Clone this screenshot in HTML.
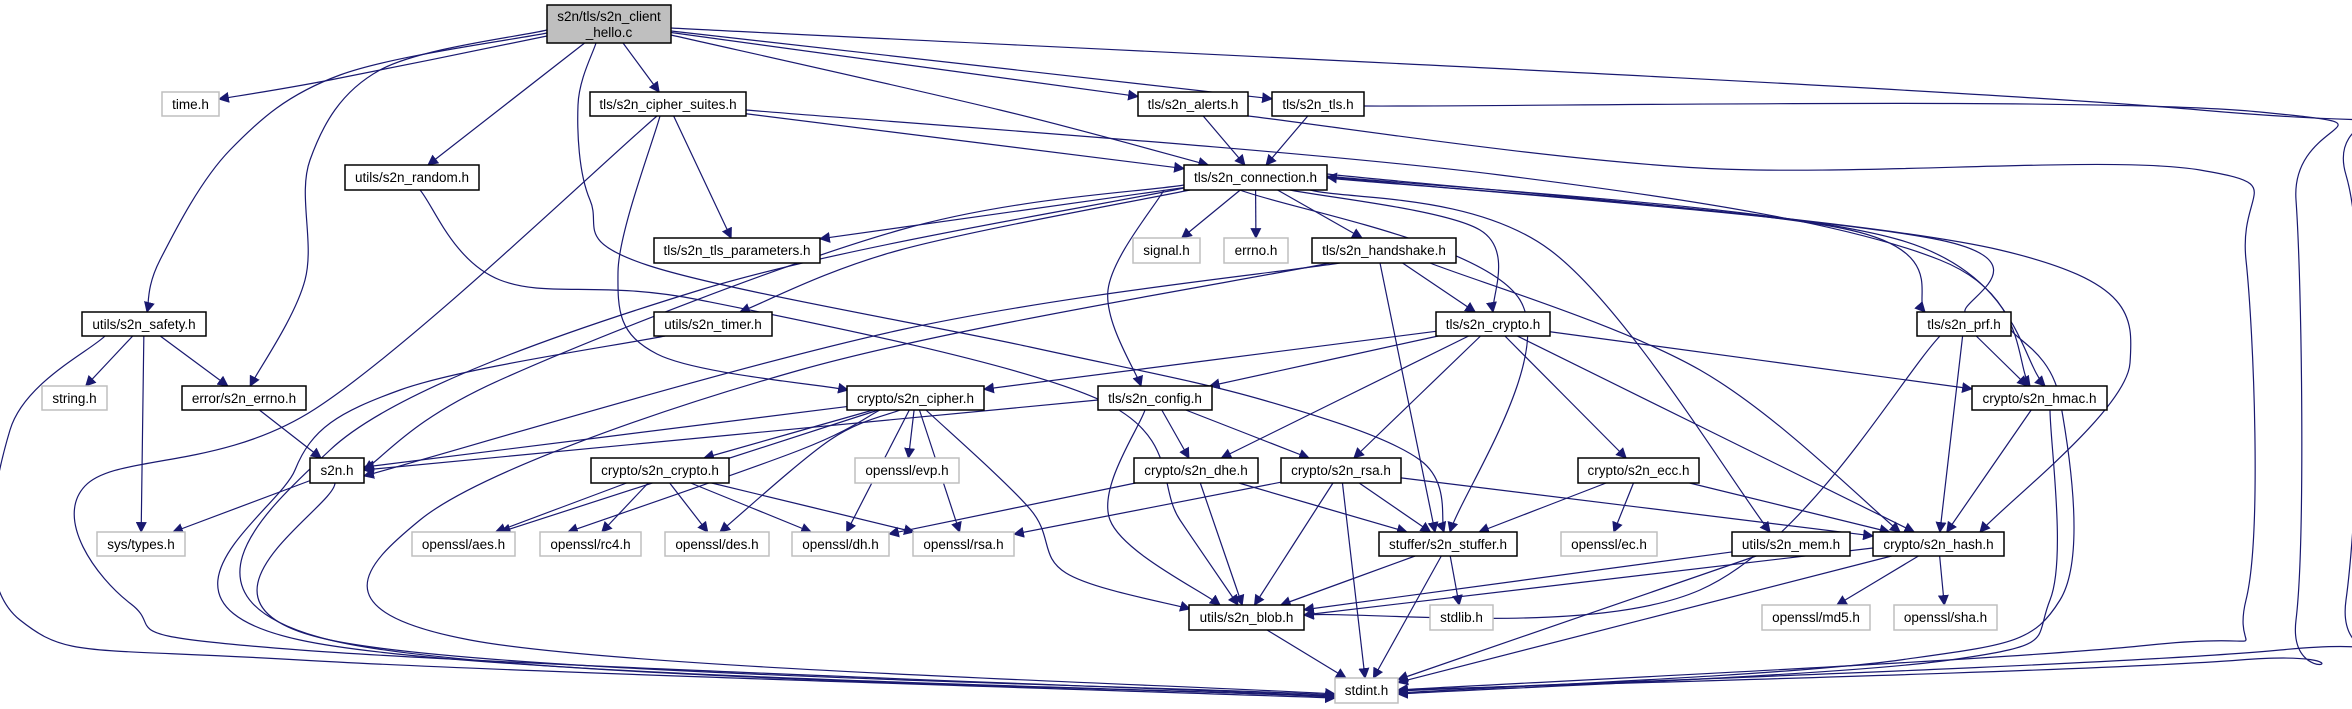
<!DOCTYPE html>
<html><head><meta charset="utf-8"><style>
html,body{margin:0;padding:0;background:#fff;}
svg{display:block;}
text{font-family:"Liberation Sans",sans-serif;font-size:13.5px;fill:#000;text-anchor:middle;}
.n{fill:#fff;stroke:#000;stroke-width:1.5;}
.g{fill:#fff;stroke:#bfbfbf;stroke-width:1.5;}
</style></head><body>
<svg id="g" width="2352" height="709" viewBox="0 0 2352 709" xmlns="http://www.w3.org/2000/svg">
<defs><marker id="a" viewBox="0 0 10 10" refX="9" refY="5" markerWidth="11" markerHeight="11" markerUnits="userSpaceOnUse" orient="auto"><path d="M0,0 L10,5 L0,10 z" fill="#191970"/></marker></defs>
<g id="edges" fill="none" stroke="#191970" stroke-width="1.2"></g>
<g>
<rect x="547" y="5" width="124" height="38" fill="#bfbfbf" stroke="#000" stroke-width="1.5"/>
<text x="609" y="21">s2n/tls/s2n_client</text><text x="609" y="37">_hello.c</text>
<rect class="g" x="162" y="92" width="57" height="24"/><text x="190.5" y="109">time.h</text>
<rect class="n" x="590" y="92" width="156" height="24"/><text x="668" y="109">tls/s2n_cipher_suites.h</text>
<rect class="n" x="1138" y="92" width="110" height="24"/><text x="1193" y="109">tls/s2n_alerts.h</text>
<rect class="n" x="1272" y="92" width="92" height="24"/><text x="1318" y="109">tls/s2n_tls.h</text>
<rect class="n" x="345" y="165" width="134" height="25"/><text x="412" y="182">utils/s2n_random.h</text>
<rect class="n" x="1184" y="165" width="143" height="25"/><text x="1255.5" y="182">tls/s2n_connection.h</text>
<rect class="n" x="654" y="238" width="166" height="25"/><text x="737" y="255">tls/s2n_tls_parameters.h</text>
<rect class="g" x="1133" y="238" width="67" height="25"/><text x="1166.5" y="255">signal.h</text>
<rect class="g" x="1224" y="238" width="64" height="25"/><text x="1256" y="255">errno.h</text>
<rect class="n" x="1312" y="238" width="144" height="25"/><text x="1384" y="255">tls/s2n_handshake.h</text>
<rect class="n" x="82" y="312" width="124" height="24"/><text x="144" y="329">utils/s2n_safety.h</text>
<rect class="n" x="654" y="312" width="118" height="24"/><text x="713" y="329">utils/s2n_timer.h</text>
<rect class="n" x="1436" y="312" width="114" height="24"/><text x="1493" y="329">tls/s2n_crypto.h</text>
<rect class="n" x="1917" y="312" width="94" height="24"/><text x="1964" y="329">tls/s2n_prf.h</text>
<rect class="g" x="42" y="386" width="65" height="24"/><text x="74.5" y="403">string.h</text>
<rect class="n" x="182" y="386" width="124" height="24"/><text x="244" y="403">error/s2n_errno.h</text>
<rect class="n" x="847" y="386" width="137" height="24"/><text x="915.5" y="403">crypto/s2n_cipher.h</text>
<rect class="n" x="1098" y="386" width="114" height="24"/><text x="1155" y="403">tls/s2n_config.h</text>
<rect class="n" x="1972" y="386" width="135" height="24"/><text x="2039.5" y="403">crypto/s2n_hmac.h</text>
<rect class="n" x="310" y="458" width="54" height="25"/><text x="337" y="475">s2n.h</text>
<rect class="n" x="591" y="458" width="138" height="25"/><text x="660" y="475">crypto/s2n_crypto.h</text>
<rect class="g" x="855" y="458" width="104" height="25"/><text x="907" y="475">openssl/evp.h</text>
<rect class="n" x="1134" y="458" width="124" height="25"/><text x="1196" y="475">crypto/s2n_dhe.h</text>
<rect class="n" x="1281" y="458" width="120" height="25"/><text x="1341" y="475">crypto/s2n_rsa.h</text>
<rect class="n" x="1578" y="458" width="121" height="25"/><text x="1638.5" y="475">crypto/s2n_ecc.h</text>
<rect class="g" x="97" y="532" width="88" height="24"/><text x="141" y="549">sys/types.h</text>
<rect class="g" x="412" y="532" width="103" height="24"/><text x="463.5" y="549">openssl/aes.h</text>
<rect class="g" x="540" y="532" width="101" height="24"/><text x="590.5" y="549">openssl/rc4.h</text>
<rect class="g" x="665" y="532" width="104" height="24"/><text x="717" y="549">openssl/des.h</text>
<rect class="g" x="792" y="532" width="97" height="24"/><text x="840.5" y="549">openssl/dh.h</text>
<rect class="g" x="913" y="532" width="101" height="24"/><text x="963.5" y="549">openssl/rsa.h</text>
<rect class="n" x="1379" y="532" width="138" height="24"/><text x="1448" y="549">stuffer/s2n_stuffer.h</text>
<rect class="g" x="1561" y="532" width="96" height="24"/><text x="1609" y="549">openssl/ec.h</text>
<rect class="n" x="1732" y="532" width="118" height="24"/><text x="1791" y="549">utils/s2n_mem.h</text>
<rect class="n" x="1873" y="532" width="131" height="24"/><text x="1938.5" y="549">crypto/s2n_hash.h</text>
<rect class="n" x="1189" y="605" width="115" height="25"/><text x="1246.5" y="622">utils/s2n_blob.h</text>
<rect class="g" x="1430" y="605" width="63" height="25"/><text x="1461.5" y="622">stdlib.h</text>
<rect class="g" x="1762" y="605" width="108" height="25"/><text x="1816" y="622">openssl/md5.h</text>
<rect class="g" x="1894" y="605" width="103" height="25"/><text x="1945.5" y="622">openssl/sha.h</text>
<rect class="g" x="1335" y="678" width="63" height="25"/><text x="1366.5" y="695">stdint.h</text>
</g>
</svg>
<script>
var N={
time:[162,219,92,116],suites:[590,746,92,116],alerts:[1138,1248,92,116],tlsh:[1272,1364,92,116],
random:[345,479,165,190],conn:[1184,1327,165,190],
params:[654,820,238,263],signal:[1133,1200,238,263],errnoh:[1224,1288,238,263],handshake:[1312,1456,238,263],
safety:[82,206,312,336],timer:[654,772,312,336],tcrypto:[1436,1550,312,336],prf:[1917,2011,312,336],
string:[42,107,386,410],errno:[182,306,386,410],cipher:[847,984,386,410],config:[1098,1212,386,410],hmac:[1972,2107,386,410],
s2n:[310,364,458,483],ccrypto:[591,729,458,483],evp:[855,959,458,483],dhe:[1134,1258,458,483],rsa:[1281,1401,458,483],ecc:[1578,1699,458,483],
systypes:[97,185,532,556],aes:[412,515,532,556],rc4:[540,641,532,556],des:[665,769,532,556],dh:[792,889,532,556],rsah:[913,1014,532,556],stuffer:[1379,1517,532,556],ech:[1561,1657,532,556],mem:[1732,1850,532,556],hash:[1873,2004,532,556],
blob:[1189,1304,605,630],stdlib:[1430,1493,605,630],md5:[1762,1870,605,630],sha:[1894,1997,605,630],
stdint:[1335,1398,678,703],root:[547,671,5,43]};
var E=[
["root","time",[[547,36],[330,80]]],["root","safety",[[547,33],[340,75],[230,150],[160,260]]],["root","errno",[[547,30],[380,70],[310,160],[305,280]]],
["root","random"],["root","suites"],["root","stuffer",[[596,43],[578,105],[590,200],[647,265],[1030,347],[1263,400],[1420,460]]],["root","conn",[[671,35],[1000,110]]],["root","alerts"],["root","tlsh"],
["root","stdint",[[671,28],[2200,110],[2346,175],[2346,600],[2280,650],[1398,691]]],
["suites","conn"],["suites","params"],["suites","cipher",[[660,116],[618,272],[657,354],[848,390]]],["suites","stdint",[[657,116],[315,409],[85,486],[131,604],[300,650],[1335,696]]],
["suites","hmac",[[746,110],[1500,175],[1940,260],[2030,386]]],
["random","blob",[[420,190],[500,280],[700,300],[1100,400],[1180,520]]],
["alerts","conn"],["alerts","stdint",[[1248,116],[1700,168],[2200,170],[2246,260],[2246,600],[2150,645],[1398,690]]],
["tlsh","conn"],["tlsh","stdint",[[1364,106],[2260,112],[2296,200],[2296,620],[2240,660],[1398,690]]],
["conn","params"],["conn","timer",[[1190,190],[900,250],[740,312]]],["conn","signal"],["conn","errnoh"],["conn","handshake"],["conn","tcrypto",[[1290,190],[1480,230],[1493,312]]],
["conn","config",[[1164,190],[1108,290],[1141,386]]],["conn","s2n",[[1184,185],[900,230],[500,380],[364,470]]],["conn","stdint",[[1184,188],[700,290],[330,450],[330,640],[1335,697]]],
["conn","stuffer",[[1240,190],[1520,300],[1450,532]]],["conn","mem",[[1310,190],[1550,250],[1770,532]]],["conn","prf",[[1327,178],[1850,230],[1925,312]]],
["conn","hmac",[[1327,176],[1900,240],[2045,386]]],["conn","hash",[[1327,174],[2000,250],[2130,363],[1980,532]]],
["prf","conn",[[1965,312],[1940,240],[1327,177]]],
["safety","string"],["safety","systypes"],["safety","errno"],["safety","stdint",[[105,336],[10,430],[20,620],[300,660],[1335,698]]],
["errno","s2n"],["timer","stdint",[[665,336],[400,390],[295,470],[300,640],[1335,697]]],
["handshake","tcrypto"],["handshake","stuffer",[[1380,263],[1435,532]]],["handshake","hash",[[1430,263],[1700,370],[1900,532]]],
["handshake","s2n",[[1340,263],[900,330],[364,476]]],["handshake","stdint",[[1330,263],[800,370],[420,520],[470,640],[1335,694]]],
["tcrypto","cipher"],["tcrypto","config"],["tcrypto","dhe"],["tcrypto","rsa"],["tcrypto","ecc"],["tcrypto","hash"],["tcrypto","hmac"],
["prf","hmac"],["prf","hash"],["prf","blob",[[1940,336],[1700,590],[1304,615]]],["prf","stdint",[[2011,330],[2060,400],[2060,600],[1900,660],[1398,693]]],
["hmac","hash"],["hmac","stdint",[[2050,410],[2050,600],[1950,660],[1398,694]]],
["cipher","s2n"],["cipher","ccrypto"],["cipher","evp"],["cipher","aes"],["cipher","rc4",[[880,410],[800,450],[568,532]]],["cipher","des",[[900,410],[830,440],[720,532]]],["cipher","dh"],["cipher","rsah"],["cipher","blob",[[926,410],[1030,509],[1066,573],[1190,609]]],
["config","s2n",[[1098,400],[364,470]]],["config","dhe"],["config","rsa"],["config","blob",[[1145,410],[1110,520],[1220,605]]],
["ccrypto","aes"],["ccrypto","rc4"],["ccrypto","des"],["ccrypto","dh"],["ccrypto","rsah"],
["s2n","systypes"],["s2n","stdint",[[335,483],[330,640],[1335,695]]],
["dhe","dh"],["dhe","blob"],["dhe","stuffer"],
["rsa","rsah"],["rsa","stuffer"],["rsa","blob"],["rsa","stdint"],["rsa","hash"],
["ecc","ech"],["ecc","stuffer"],["ecc","hash"],
["stuffer","blob"],["stuffer","stdlib"],["stuffer","stdint"],
["mem","blob"],["mem","stdint"],["hash","md5"],["hash","sha"],["hash","stdint"],["hash","blob",[[1873,548],[1304,615]]],["blob","stdint"]];
function clip(n,px,py){var r=N[n],cx=(r[0]+r[1])/2,cy=(r[2]+r[3])/2,dx=px-cx,dy=py-cy,hw=(r[1]-r[0])/2,hh=(r[3]-r[2])/2;
 if(dx==0&&dy==0)return[cx,cy];var t=Math.min(dx?hw/Math.abs(dx):1e9,dy?hh/Math.abs(dy):1e9);return[cx+dx*t,cy+dy*t];}
function c(n){var r=N[n];return[(r[0]+r[1])/2,(r[2]+r[3])/2];}
var out="";
E.forEach(function(e){var pts;
 if(e[2]){pts=e[2].slice();var last=pts[pts.length-1];var end=clip(e[1],last[0],last[1]);
  var r=N[e[1]];if(last[0]>=r[0]&&last[0]<=r[1]&&last[1]>=r[2]-1&&last[1]<=r[3]+1){pts.pop();end=last;}
  pts.push(end);}
 else{var a=c(e[0]),b=c(e[1]);pts=[clip(e[0],b[0],b[1]),clip(e[1],a[0],a[1])];}
 var d="M"+pts[0][0]+","+pts[0][1];
 for(var i=0;i<pts.length-1;i++){var p0=pts[i-1]||pts[i],p1=pts[i],p2=pts[i+1],p3=pts[i+2]||p2;
  d+=" C"+(p1[0]+(p2[0]-p0[0])/6)+","+(p1[1]+(p2[1]-p0[1])/6)+" "+(p2[0]-(p3[0]-p1[0])/6)+","+(p2[1]-(p3[1]-p1[1])/6)+" "+p2[0]+","+p2[1];}
 out+='<path d="'+d+'" marker-end="url(#a)"/>';});
document.getElementById("edges").innerHTML=out;
</script>
</body></html>
